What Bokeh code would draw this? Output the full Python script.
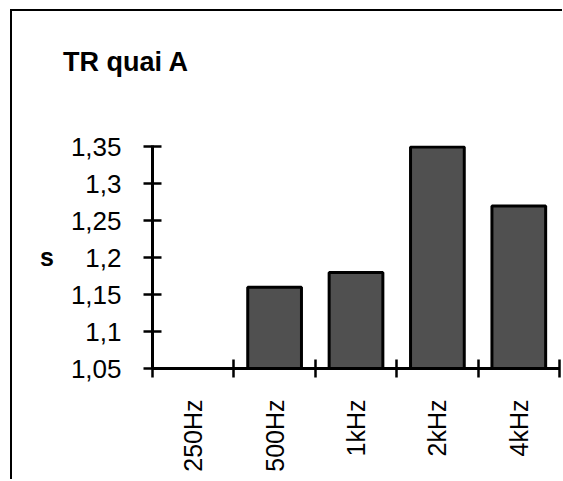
import math
from bokeh.plotting import figure
from bokeh.models import FixedTicker, Range1d, Title
from bokeh.embed import file_html
from bokeh.resources import INLINE

# ---- data ----
categories = ["250Hz", "500Hz", "1kHz", "2kHz", "4kHz"]
tr_values = [float("nan"), 1.16, 1.18, 1.35, 1.27]
y_ticks = [1.05, 1.10, 1.15, 1.20, 1.25, 1.30, 1.35]
y_tick_labels = ["1,05", "1,1", "1,15", "1,2", "1,25", "1,3", "1,35"]
y_base = 1.05
title_text = "TR quai A"
y_label = "s"

FONT = "Liberation Sans"

n = len(categories)
centers = [i + 0.5 for i in range(n)]
bounds = [float(i) for i in range(n + 1)]

p = figure(width=550, height=468, output_backend="svg", toolbar_location=None,
           title=None,
           x_range=Range1d(0, n), y_range=Range1d(y_base, 1.352),
           min_border_left=140, min_border_right=5,
           min_border_top=134, min_border_bottom=113)
p.styles = {"border-left": "2.5px solid black", "border-top": "2.5px solid black",
            "box-sizing": "content-box", "overflow": "hidden",
            "position": "absolute", "left": "10px", "top": "9px"}
p.outline_line_color = None
p.xgrid.visible = False
p.ygrid.visible = False
p.background_fill_color = "white"
p.border_fill_color = "white"

p.vbar(x=centers, top=tr_values, bottom=y_base, width=0.66,
       fill_color="#505050", line_color="black", line_width=3)

# spacer between frame and title, then the title itself (outermost)
p.add_layout(Title(text=" ", text_font_size="1px", standoff=66), "above")
p.add_layout(Title(text=title_text, align="left", offset=-89.5, standoff=0,
                   text_font=FONT, text_font_size="27px",
                   text_font_style="bold", text_color="black"), "above")

# x axis
xa = p.xaxis[0]
xa.ticker = FixedTicker(ticks=centers, minor_ticks=bounds)
xa.major_label_overrides = {c: lab for c, lab in zip(centers, categories)}
xa.major_label_orientation = math.pi / 2
xa.major_tick_in = 0
xa.major_tick_out = 0
xa.major_tick_line_color = None
xa.minor_tick_in = 9
xa.minor_tick_out = 9
xa.minor_tick_line_color = "black"
xa.minor_tick_line_width = 2.5
xa.axis_line_width = 3
xa.axis_line_color = "black"
xa.major_label_standoff = 22
xa.major_label_text_font = FONT
xa.major_label_text_font_size = "25px"
xa.major_label_text_color = "black"

# y axis
ya = p.yaxis[0]
ya.ticker = FixedTicker(ticks=y_ticks, minor_ticks=[])
ya.major_label_overrides = {t: lab for t, lab in zip(y_ticks, y_tick_labels)}
ya.major_tick_in = 9
ya.major_tick_out = 9
ya.major_tick_line_width = 2.5
ya.major_tick_line_color = "black"
ya.minor_tick_line_color = None
ya.axis_line_width = 3
ya.axis_line_color = "black"
ya.major_label_standoff = 22
ya.major_label_text_font = FONT
ya.major_label_text_font_size = "26px"
ya.major_label_text_color = "black"
ya.axis_label = y_label
ya.axis_label_orientation = "horizontal"
ya.axis_label_standoff = 14
ya.axis_label_text_font = FONT
ya.axis_label_text_font_size = "25px"
ya.axis_label_text_font_style = "bold"
ya.axis_label_text_color = "black"

open("out.html", "w").write(file_html(p, INLINE))
